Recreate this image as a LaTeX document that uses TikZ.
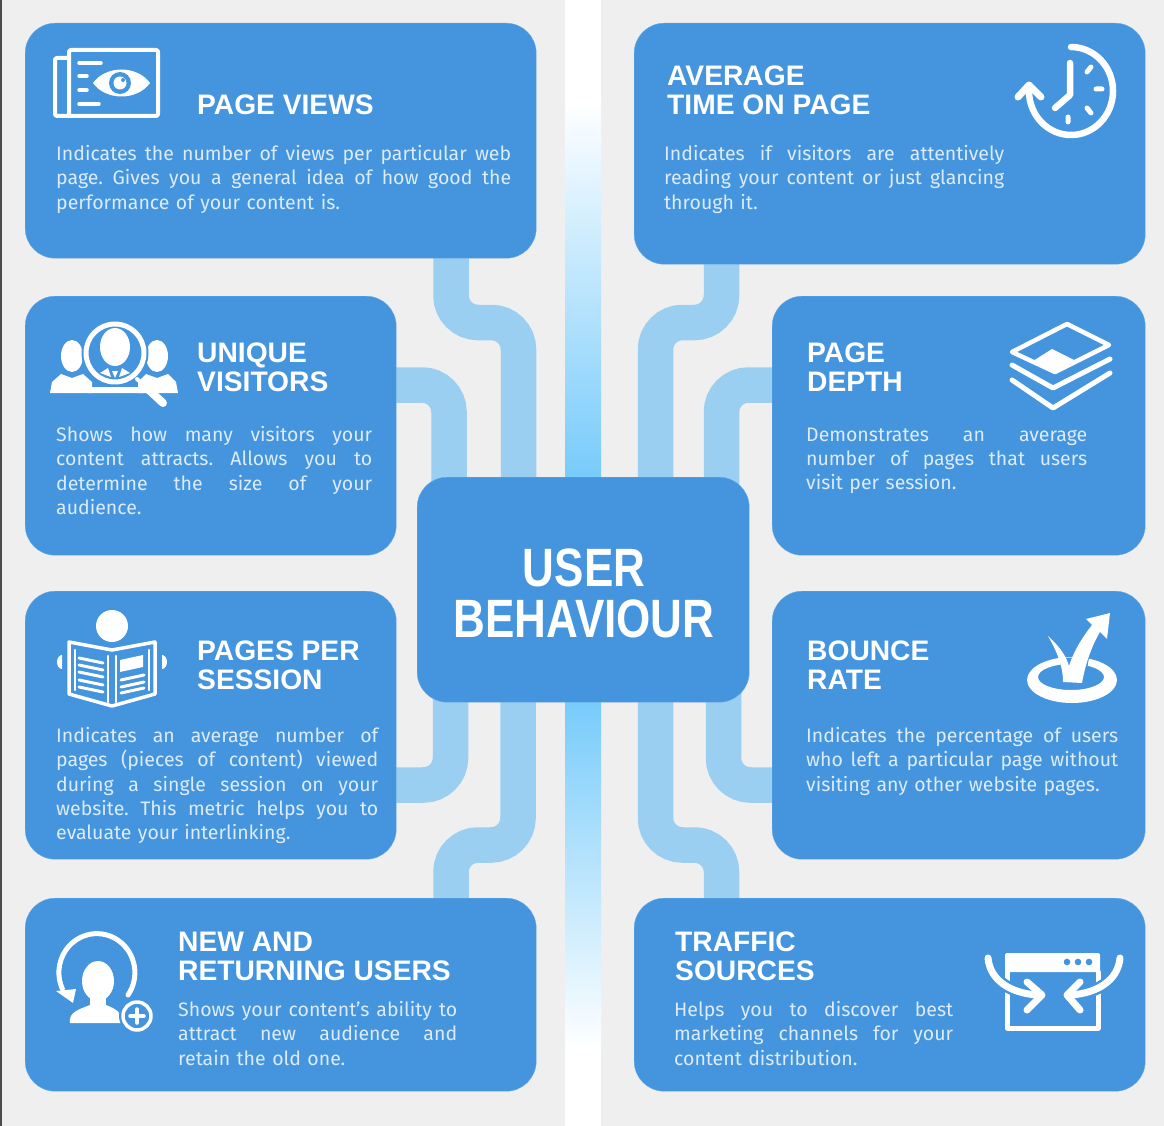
\documentclass[tikz,border=0pt]{standalone}
\usepackage{fontspec}
\setmainfont{Fira Sans}
\newfontfamily\headfont{Liberation Sans}
\newfontfamily\hubfont[FakeStretch=0.815]{Liberation Sans}
\usepackage{xcolor}
\usepackage{tikz}
\usetikzlibrary{backgrounds}
\definecolor{card_blue}{HTML}{4494DE}
\definecolor{card_edge}{HTML}{66A9E6}
\definecolor{link_blue}{HTML}{9BCFF2}
\definecolor{strip_blue}{HTML}{6FC8FA}
\definecolor{page_grey}{HTML}{EFEFEF}
\definecolor{body_white}{HTML}{DCECFA}
\newcommand{\bodyline}[1]{\makebox[\hsize][s]{\spaceskip=0pt\xspaceskip=0pt\frenchspacing #1}\\}
\tikzset{
    card/.style = {rectangle, rounded corners=30pt, draw=card_edge, thin, fill=card_blue, anchor=north west, inner sep=0pt},
    head_text/.style = {anchor=north west, align=left, inner sep=0pt, white, font=\headfont\bfseries\fontsize{28.2}{29}\selectfont},
    body_text/.style = {anchor=north west, align=left, inner sep=0pt, body_white, font=\fontsize{19.5}{24.3}\selectfont},
    hub_text/.style = {align=center, inner sep=0pt, white, font=\hubfont\bfseries\fontsize{54}{51}\selectfont},
    link/.style = {draw=link_blue, line width=35.5pt, rounded corners=27pt},
    icon_line/.style = {draw=white, line cap=round, line join=round},
    icon_halo/.style = {draw=card_blue, line cap=round, line join=round},
    icon_fill/.style = {fill=white, line join=round}
}
\begin{document}
\begin{tikzpicture}[x=1pt,y=1pt,yscale=-1]
    \useasboundingbox (0,0) rectangle (1164,1126);
    % cards
    \node [card, minimum width=511pt, minimum height=235pt] (views) at (25,23) {};
    \node [card, minimum width=511pt, minimum height=241pt] (time) at (634,23) {};
    \node [card, minimum width=371pt, minimum height=259pt] (visitors) at (25,296) {};
    \node [card, minimum width=373pt, minimum height=259pt] (depth) at (772,296) {};
    \node [card, minimum width=371pt, minimum height=268pt] (pages) at (25,591) {};
    \node [card, minimum width=373pt, minimum height=268pt] (bounce) at (772,591) {};
    \node [card, minimum width=511pt, minimum height=193pt] (returning) at (25,898) {};
    \node [card, minimum width=511pt, minimum height=193pt] (traffic) at (634,898) {};
    \node [card, minimum width=332pt, minimum height=225pt] (hub) at (417,477) {};
    \node [hub_text] (hubtext) at (584,593) {USER\\BEHAVIOUR};
    % bends of the links
    \coordinate (viewsbenda) at (451,322.5);
    \coordinate (viewsbendb) at (518.5,322.5);
    \coordinate (timebenda) at (721.5,322.5);
    \coordinate (timebendb) at (655.5,322.5);
    \coordinate (visitorsbend) at (449,385);
    \coordinate (depthbend) at (721.5,385);
    \coordinate (pagesbend) at (450.5,785);
    \coordinate (bouncebend) at (723.5,785);
    \coordinate (returningbenda) at (451,845);
    \coordinate (returningbendb) at (518,845);
    \coordinate (trafficbenda) at (721.5,845);
    \coordinate (trafficbendb) at (655.5,845);
    \begin{scope}[on background layer]
        \fill [page_grey] (0,0) rectangle (1164,1126);
        \fill [white] (565,0) rectangle (601,1126);
        \fill [black!70] (0,0) rectangle (1.5,1126);
        \shade [top color=white, bottom color=strip_blue] (565,100) rectangle (601,500);
        \shade [top color=strip_blue, bottom color=white] (565,680) rectangle (601,1050);
        \draw [link] (views.center -| viewsbenda) -- (viewsbenda) -- (viewsbendb) -- (viewsbendb |- hub.center);
        \draw [link] (time.center -| timebenda) -- (timebenda) -- (timebendb) -- (timebendb |- hub.center);
        \draw [link] (visitors.center |- visitorsbend) -- (visitorsbend) -- (visitorsbend |- hub.center);
        \draw [link] (depth.center |- depthbend) -- (depthbend) -- (depthbend |- hub.center);
        \draw [link] (pages.center |- pagesbend) -- (pagesbend) -- (pagesbend |- hub.center);
        \draw [link] (bounce.center |- bouncebend) -- (bouncebend) -- (bouncebend |- hub.center);
        \draw [link] (returning.center -| returningbenda) -- (returningbenda) -- (returningbendb) -- (returningbendb |- hub.center);
        \draw [link] (traffic.center -| trafficbenda) -- (trafficbenda) -- (trafficbendb) -- (trafficbendb |- hub.center);
    \end{scope}
    % headings
    \node [head_text] (viewshead) at (197,95) {PAGE VIEWS};
    \node [head_text] (timehead) at (667,66) {AVERAGE\\TIME ON PAGE};
    \node [head_text] (visitorshead) at (197,343) {UNIQUE\\VISITORS};
    \node [head_text] (depthhead) at (807,343) {PAGE\\DEPTH};
    \node [head_text] (pageshead) at (197,641) {PAGES PER\\SESSION};
    \node [head_text] (bouncehead) at (807,641) {BOUNCE\\RATE};
    \node [head_text] (returninghead) at (178,932) {NEW AND\\RETURNING USERS};
    \node [head_text] (traffichead) at (675,932) {TRAFFIC\\SOURCES};
    % descriptions
    \node [body_text, text width=455pt] (viewstext) at (56,145) {\bodyline{Indicates the number of views per particular web}\bodyline{page. Gives you a general idea of how good the}performance of your content is.};
    \node [body_text, text width=340pt] (timetext) at (664,145) {\bodyline{Indicates if visitors are attentively}\bodyline{reading your content or just glancing}through it.};
    \node [body_text, text width=316pt] (visitorstext) at (56,426) {\bodyline{Shows how many visitors your}\bodyline{content attracts. Allows you to}\bodyline{determine the size of your}audience.};
    \node [body_text, text width=281pt] (depthtext) at (806,427.5) {\bodyline{Demonstrates an average}\bodyline{number of pages that users}visit per session.};
    \node [body_text, text width=322pt] (pagestext) at (56,727) {\bodyline{Indicates an average number of}\bodyline{pages (pieces of content) viewed}\bodyline{during a single session on your}\bodyline{website. This metric helps you to}evaluate your interlinking.};
    \node [body_text, text width=312pt] (bouncetext) at (806,727) {\bodyline{Indicates the percentage of users}\bodyline{who left a particular page without}visiting any other website pages.};
    \node [body_text, text width=279pt] (returningtext) at (178,1001) {\bodyline{Shows your content’s ability to}\bodyline{attract new audience and}retain the old one.};
    \node [body_text, text width=279pt] (traffictext) at (674,1001) {\bodyline{Helps you to discover best}\bodyline{marketing channels for your}content distribution.};
    % page views icon
    \draw [icon_line, line width=4pt, rounded corners=2pt] (69,50) rectangle (158,116);
    \draw [icon_line, line width=4pt, rounded corners=2pt] (69,58) -- (55,58) -- (55,116) -- (69,116);
    \draw [icon_line, line width=3.5pt] (79,63) -- (101,63) (79,76) -- (87,76) (79,90) -- (87,90) (79,104) -- (99,104);
    \fill [white] (93,83) .. controls (106,65) and (137,65) .. (150,83) .. controls (137,101) and (106,101) .. (93,83) -- cycle;
    \fill [card_blue] (120,83) circle (11);
    \fill [white] (120,83) circle (6.5);
    \fill [card_blue] (123,80) circle (2);
    % unique visitors icon
    \fill [white] (72,356) ellipse (11 and 16);
    \fill [white] (157,356) ellipse (11 and 16);
    \fill [white] (50,393) -- (52,382) -- (61,374) -- (72,378) -- (83,374) -- (92,382) -- (92,393) -- cycle;
    \fill [white] (178,393) -- (176,382) -- (168,374) -- (157,378) -- (146,374) -- (138,382) -- (138,393) -- cycle;
    \fill [card_blue] (115,353) circle (33.5);
    \fill [white] (115,347) ellipse (15 and 19);
    \fill [white] (88,393) -- (88,387) -- (141,387) -- (144,393) -- cycle;
    \fill [white] (100,373) -- (108,368) -- (111,377) -- cycle (130,373) -- (122,368) -- (119,377) -- cycle (112,371) -- (118,371) -- (115,378) -- cycle;
    \draw [icon_line, line width=5pt] (115,353) circle (29);
    \draw [icon_line, line width=4pt] (137,379) -- (148,389);
    \draw [icon_line, line width=8pt] (149,390) -- (163,403);
    % pages per session icon
    \fill [white] (112,626) circle (16);
    \draw [icon_line, line width=3.5pt] (69,642) -- (112,650) -- (155,642) -- (155,694) -- (112,706) -- (69,694) -- cycle;
    \draw [icon_line, line width=2.5pt] (75,650) -- (75,690) (149,650) -- (149,690) (108,656) -- (108,702) (116,656) -- (116,702);
    \draw [icon_line, line width=3pt] (79,658) -- (103,663) (79,665) -- (103,670) (79,672) -- (103,677) (79,680) -- (103,685) (79,687) -- (103,692);
    \draw [icon_line, line width=3pt] (121,680) -- (144,675) (121,687) -- (144,682) (121,693) -- (144,688);
    \fill [white] (120,660) -- (143,655) -- (143,667) -- (120,672) -- cycle;
    \fill [white] (62,655) arc[start angle=-90,end angle=-270,x radius=5,y radius=7] -- cycle;
    \fill [white] (162,655) arc[start angle=-90,end angle=90,x radius=5,y radius=7] -- cycle;
    % new and returning users icon
    \draw [icon_line, line width=5pt] (128,995) arc[start angle=35,end angle=-205,x radius=38,y radius=39];
    \fill [white, line join=round] (56,991) -- (76,989) -- (73,1003) -- cycle;
    \fill [white] (98,981) ellipse (16 and 20);
    \fill [white] (90,995) rectangle (106,1008);
    \fill [white] (70,1023) .. controls (68,1012) and (80,1009) .. (90,1005) -- (106,1005) .. controls (116,1009) and (122,1012) .. (122,1023) -- cycle;
    \fill [card_blue] (137,1016) circle (18);
    \draw [icon_line, line width=3.5pt] (137,1016) circle (14);
    \draw [icon_line, line width=3.5pt] (130,1016) -- (144,1016) (137,1009) -- (137,1023);
    % average time on page icon
    \draw [icon_line, line width=6.5pt] (1071,47) arc[start angle=-90,end angle=180,x radius=42,y radius=44] -- (1029,88);
    \draw [icon_line, line width=7pt] (1018,97) -- (1029,85) -- (1041,97);
    \draw [icon_line, line width=6.5pt] (1070,63) -- (1070,95) -- (1055,108);
    \draw [icon_line, line width=5pt] (1087,72) -- (1091,67) (1096,89) -- (1102,89) (1087,108) -- (1091,113) (1068,117) -- (1068,122);
    % page depth icon
    \draw [icon_line, line width=4.5pt] (1067,324) -- (1109,345) -- (1055,372) -- (1012,352) -- cycle;
    \fill [white, line join=round] (1052,349) -- (1076,361) -- (1055,371) -- (1033,361) -- cycle;
    \draw [icon_line, line width=5pt] (1012,365) -- (1053,388) -- (1110,359);
    \draw [icon_line, line width=5pt] (1012,380) -- (1053,408) -- (1110,373);
    % bounce rate icon
    \fill [white, even odd rule] (1072,680) ellipse (45 and 23) (1071,677) ellipse (33 and 13);
    \draw [icon_halo, line width=5pt, fill=card_blue] (1063,660) -- (1063,682) -- (1082,682) -- (1087,655) -- (1073,660) -- cycle;
    \fill [white] (1048,636) .. controls (1058,645) and (1066,655) .. (1069,666) .. controls (1074,650) and (1084,635) .. (1092,625) -- (1086,619) -- (1110,613) -- (1107,639) -- (1100,632) .. controls (1092,645) and (1085,665) .. (1082,683) -- (1063,682) .. controls (1063,665) and (1056,650) .. (1048,636) -- cycle;
    % traffic sources icon
    \draw [icon_line, line width=5pt] (1007,972) -- (1007,1028) -- (1098,1028) -- (1098,972);
    \fill [white, rounded corners=2pt] (1005,953) rectangle (1100,972);
    \fill [card_blue] (1067,962) circle (3.3) (1078,962) circle (3.3) (1089,962) circle (3.3);
    \draw [icon_halo, line width=12pt] (988,958) .. controls (990,980) and (1010,993) .. (1037,995);
    \draw [icon_halo, line width=12pt] (1120,958) .. controls (1118,980) and (1098,993) .. (1071,995);
    \draw [icon_line, line width=7pt] (988,958) .. controls (990,980) and (1010,993) .. (1037,995);
    \draw [icon_line, line width=7pt] (1120,958) .. controls (1118,980) and (1098,993) .. (1071,995);
    \draw [icon_line, line width=7pt] (1027,982) -- (1042,995) -- (1027,1010);
    \draw [icon_line, line width=7pt] (1080,982) -- (1067,995) -- (1080,1010);
\end{tikzpicture}
\end{document}
